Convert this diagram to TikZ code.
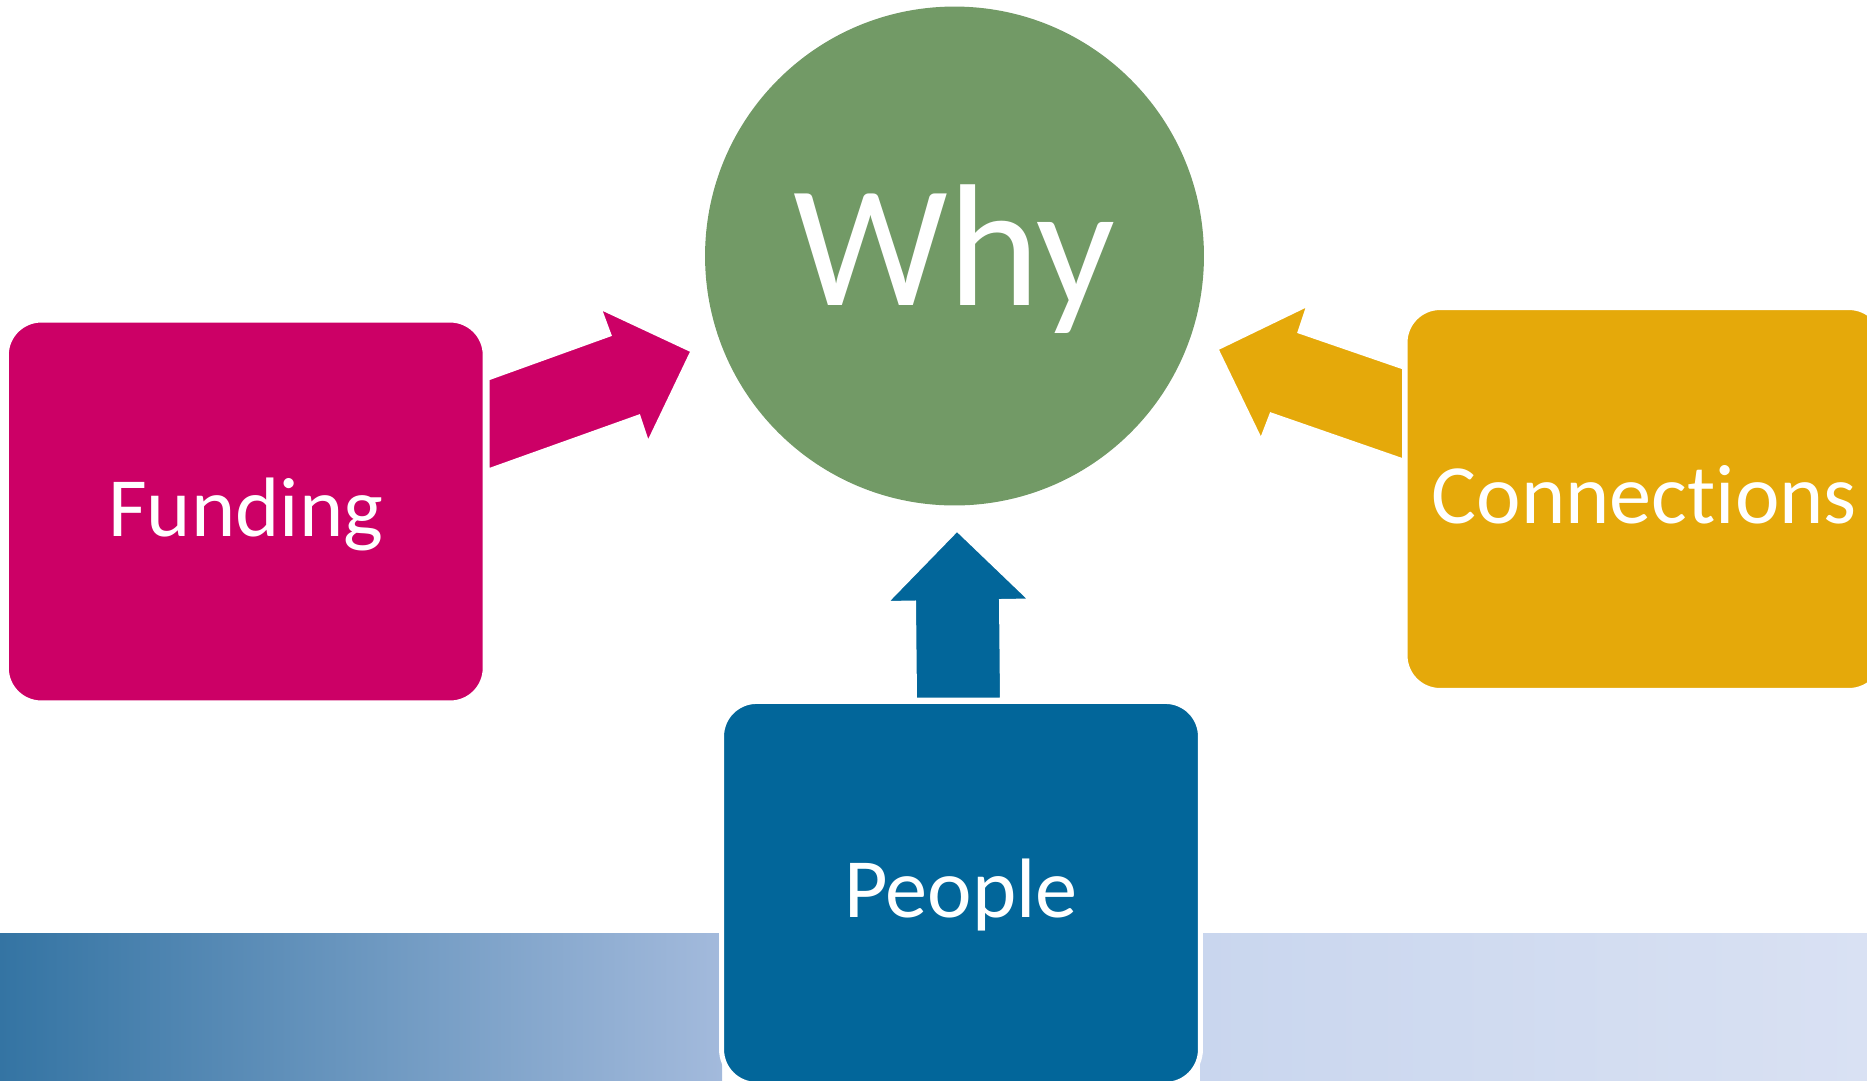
\documentclass[tikz,border=0pt]{standalone}
\usepackage{fontspec}
\setmainfont{Carlito}[Ligatures={NoCommon,NoRare}]
\usepackage{xcolor}
\usepackage{tikz}
\usetikzlibrary{positioning}

\definecolor{whygreen}{HTML}{729A66}
\definecolor{fundingmag}{HTML}{CC0066}
\definecolor{connamber}{HTML}{E5A90A}
\definecolor{peopleblue}{HTML}{02669A}
\definecolor{bandA}{HTML}{3474A3}
\definecolor{bandB}{HTML}{A3BADC}
\definecolor{bandC}{HTML}{C9D6EE}
\definecolor{bandD}{HTML}{D9E1F3}

\begin{document}
\begin{tikzpicture}[
    x=0.02cm, y=-0.02cm,
    node distance=3.92cm,
    topicbox/.style={rectangle, rounded corners=0.7cm, draw=white, line width=0.1cm, outer sep=0pt, minimum width=9.58cm, minimum height=7.66cm, text=white, font=\fontsize{48}{58}\selectfont, text height=1.08cm, text depth=0.1cm},
    whycircle/.style={circle, fill=whygreen, inner sep=0pt, outer sep=0pt, minimum size=9.98cm, text=white, font=\fontsize{99}{119}\selectfont, text height=2.2cm, text depth=0.24cm},
    blockarrow/.style={draw=white, line width=0.06cm, line join=miter}
]
\useasboundingbox (0,0) rectangle (1867,1080);
\clip (0,0) rectangle (1867,1080);

% shaded strip along the bottom
\fill[left color=bandA, right color=bandB] (0,933) rectangle (722,1080);
\fill[left color=bandC, right color=bandD] (1200,933) rectangle (1867,1080);

\node[whycircle] (why) at (954.5,256) {Why};
\node[topicbox, fill=fundingmag] (funding) at (245.75,511.5) {Funding};
\node[topicbox, fill=connamber] (connections) at (1644.5,499) {Connections};
\node[topicbox, fill=peopleblue, below=of why, xshift=0.13cm] (people) {People};

% block arrows pointing at the circle
\filldraw[blockarrow, fill=fundingmag] (488,379) -- (610,335) -- (600,308) -- (692,351) -- (648,443) -- (639,416) -- (488,470) -- cycle;
\filldraw[blockarrow, fill=connamber] (1403.5,368) -- (1299,332) -- (1308,305) -- (1217,349) -- (1261,440) -- (1271,414) -- (1403.5,460) -- cycle;
\filldraw[blockarrow, fill=peopleblue] (915.5,699) -- (914.5,602) -- (886.5,602.5) -- (957,530) -- (1030,600) -- (1000.5,600.5) -- (1001.5,699) -- cycle;
\end{tikzpicture}
\end{document}
